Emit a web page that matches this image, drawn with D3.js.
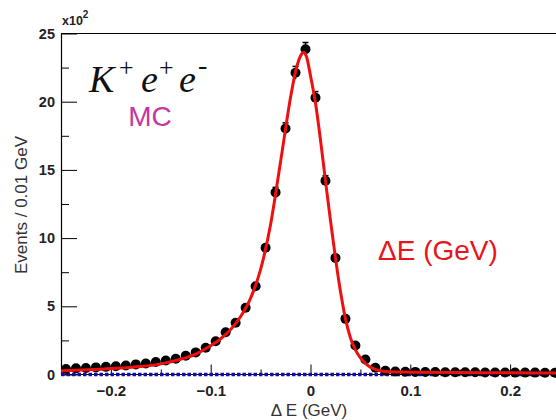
<!DOCTYPE html>
<html>
<head>
<meta charset="utf-8">
<script src="https://cdn.jsdelivr.net/npm/d3@7"></script>
<style>
  body { margin: 0; background: #fff; }
  svg { display: block; font-family: "Liberation Sans", Arial, sans-serif; }
</style>
</head>
<body>
<div class="chart"></div>
<script>
// bin centres (0.01 GeV bins) and MC counts
const binCenters = [
  -0.245, -0.235, -0.225, -0.215, -0.205, -0.195, -0.185, -0.175, -0.165, -0.155,
  -0.145, -0.135, -0.125, -0.115, -0.105, -0.095, -0.085, -0.075, -0.065, -0.055,
  -0.045, -0.035, -0.025, -0.015, -0.005, 0.005, 0.015, 0.025, 0.035, 0.045,
  0.055, 0.065, 0.075, 0.085, 0.095, 0.105, 0.115, 0.125, 0.135, 0.145,
  0.155, 0.165, 0.175, 0.185, 0.195, 0.205, 0.215, 0.225, 0.235, 0.245
];
const counts = [
  40, 45, 48, 52, 56, 60, 66, 74, 80, 92,
  102, 115, 138, 162, 196, 244, 310, 379, 489, 647,
  929, 1335, 1803, 2212, 2385, 2029, 1420, 855, 408, 213,
  110, 49, 28, 22, 20, 19, 18, 18, 17, 17,
  16, 16, 15, 15, 15, 14, 14, 14, 13, 13
];
const countErrors = [
  6, 7, 7, 7, 7, 8, 8, 9, 9, 10,
  10, 11, 12, 13, 14, 16, 18, 19, 22, 25,
  30, 37, 42, 47, 49, 45, 38, 29, 20, 15,
  10, 7, 5, 5, 4, 4, 4, 4, 4, 4,
  4, 4, 4, 4, 4, 4, 4, 4, 4, 4
];

// fitted curve (red) sampled along dE
const fitX = [
  -0.25, -0.23, -0.21, -0.19, -0.17, -0.15, -0.13, -0.115, -0.1, -0.09,
  -0.08, -0.07, -0.06, -0.05, -0.04, -0.03, -0.02, -0.015, -0.01, -0.007,
  -0.004, 0, 0.005, 0.01, 0.015, 0.02, 0.025, 0.03, 0.035, 0.04,
  0.045, 0.05, 0.055, 0.06, 0.065, 0.07, 0.08, 0.1, 0.15, 0.2, 0.25
];
const fitY = [
  28, 33, 39, 47, 58, 78, 112, 150, 210, 262,
  330, 425, 560, 770, 1100, 1560, 2030, 2220, 2335, 2360,
  2330, 2190, 1990, 1720, 1420, 1130, 855, 610, 410, 270,
  180, 122, 82, 54, 38, 28, 20, 17, 14, 12, 11
];
// background component (blue dashed), flat at zero
const bkgX = [-0.25, 0.25];
const bkgY = [0, 0];

const xTicks = [-0.2, -0.1, 0, 0.1, 0.2];
const xMinorTicks = [-0.25, -0.15, -0.05, 0.05, 0.15, 0.25];
const yTicks = [0, 500, 1000, 1500, 2000, 2500];
const yMinorTicks = [250, 750, 1250, 1750, 2250];

const width = 556, height = 420;
const plot = { left: 61, right: 560, top: 33.5, bottom: 374.5 };

const svg = d3.select(".chart")
  .append("svg")
  .attr("width", width)
  .attr("height", height);

const x = d3.scaleLinear().domain([-0.25, 0.25]).range([plot.left, plot.right]);
const y = d3.scaleLinear().domain([0, 2500]).range([plot.bottom, plot.top]);

// frame
svg.append("line")
  .attr("x1", plot.left).attr("x2", width)
  .attr("y1", plot.top).attr("y2", plot.top)
  .attr("stroke", "#000").attr("stroke-width", 1.2);
svg.append("line")
  .attr("x1", plot.left).attr("x2", width)
  .attr("y1", plot.bottom).attr("y2", plot.bottom)
  .attr("stroke", "#000").attr("stroke-width", 1.2);

// Y axis (ticks point into the frame)
const yAxis = svg.append("g")
  .attr("transform", `translate(${plot.left},0)`)
  .call(d3.axisLeft(y).tickValues(yTicks).tickSizeInner(-16).tickSizeOuter(0)
    .tickPadding(6).tickFormat(d => d / 100));
yAxis.select(".domain").attr("stroke-width", 1.2);
yAxis.selectAll("text")
  .attr("font-size", 14.5).attr("font-weight", "bold").attr("fill", "#222");
svg.append("g")
  .attr("transform", `translate(${plot.left},0)`)
  .call(d3.axisLeft(y).tickValues(yMinorTicks).tickSize(-8).tickFormat(""))
  .call(g => g.select(".domain").remove());

// X axis
const xAxis = svg.append("g")
  .attr("transform", `translate(0,${plot.bottom})`)
  .call(d3.axisBottom(x).tickValues(xTicks).tickSizeInner(-10).tickSizeOuter(0)
    .tickPadding(11).tickFormat(d => d === 0 ? "0" : d3.format(".1f")(d)));
xAxis.select(".domain").remove();
xAxis.selectAll("text")
  .attr("font-size", 15).attr("font-weight", "bold").attr("fill", "#222");
svg.append("g")
  .attr("transform", `translate(0,${plot.bottom})`)
  .call(d3.axisBottom(x).tickValues(xMinorTicks).tickSize(-5).tickFormat(""))
  .call(g => g.select(".domain").remove());

// axis titles
svg.append("text")
  .attr("transform", "translate(27,205) rotate(-90)")
  .attr("text-anchor", "middle")
  .attr("font-size", 17).attr("fill", "#333")
  .text("Events / 0.01 GeV");
svg.append("text")
  .attr("x", 309).attr("y", 416)
  .attr("text-anchor", "middle")
  .attr("font-size", 17).attr("fill", "#333")
  .text("\u0394 E (GeV)");

// x10^2 multiplier
const mult = svg.append("text")
  .attr("x", 62).attr("y", 25)
  .attr("font-size", 12.5).attr("font-weight", "bold").attr("fill", "#222");
mult.append("tspan").text("x10");
mult.append("tspan").attr("dy", -7).attr("font-size", 10).text("2");

// background (blue dashed)
const lineGen = d3.line()
  .x(d => x(d[0]))
  .y(d => y(d[1]));
svg.append("path")
  .datum(d3.zip(bkgX, bkgY))
  .attr("d", lineGen)
  .attr("fill", "none")
  .attr("stroke", "#1010a8")
  .attr("stroke-width", 3.6)
  .attr("stroke-dasharray", "3.5,2");

// data points with error bars
const pts = svg.append("g");
const data = binCenters.map((c, i) => ({ x: c, y: counts[i], e: countErrors[i] }));
pts.selectAll("line.err")
  .data(data)
  .join("line")
  .attr("class", "err")
  .attr("x1", d => x(d.x)).attr("x2", d => x(d.x))
  .attr("y1", d => y(d.y - d.e)).attr("y2", d => y(d.y + d.e))
  .attr("stroke", "#000").attr("stroke-width", 1.5);
pts.selectAll("line.cap")
  .data(data.filter(d => y(d.y) - y(d.y + d.e) > 4.5))
  .join("line")
  .attr("class", "cap")
  .attr("x1", d => x(d.x) - 3).attr("x2", d => x(d.x) + 3)
  .attr("y1", d => y(d.y + d.e)).attr("y2", d => y(d.y + d.e))
  .attr("stroke", "#000").attr("stroke-width", 1.5);
pts.selectAll("circle")
  .data(data)
  .join("circle")
  .attr("cx", d => x(d.x))
  .attr("cy", d => y(d.y))
  .attr("r", 5)
  .attr("fill", "#000");

// fit curve
svg.append("path")
  .datum(d3.zip(fitX, fitY))
  .attr("d", lineGen.curve(d3.curveMonotoneX))
  .attr("fill", "none")
  .attr("stroke", "#ee1010")
  .attr("stroke-width", 3);

// labels inside the frame
const decay = svg.append("text")
  .attr("y", 92)
  .attr("font-family", "'Liberation Serif', 'Times New Roman', serif")
  .attr("font-style", "italic")
  .attr("font-size", 38).attr("fill", "#111");
decay.append("tspan").attr("x", 89).text("K");
decay.append("tspan").attr("x", 119).attr("y", 76).attr("font-size", 26).attr("font-style", "normal").text("+");
decay.append("tspan").attr("x", 141).attr("y", 92).text("e");
decay.append("tspan").attr("x", 159).attr("y", 76).attr("font-size", 26).attr("font-style", "normal").text("+");
decay.append("tspan").attr("x", 179).attr("y", 92).text("e");
decay.append("tspan").attr("x", 198).attr("y", 74).attr("font-size", 28).attr("font-style", "normal").text("-");

svg.append("text")
  .attr("x", 150).attr("y", 126)
  .attr("text-anchor", "middle")
  .attr("font-size", 28).attr("fill", "#c8369e")
  .text("MC");

svg.append("text")
  .attr("x", 378).attr("y", 260)
  .attr("font-size", 28).attr("fill", "#e8141a")
  .text("\u0394E (GeV)");
</script>
</body>
</html>
